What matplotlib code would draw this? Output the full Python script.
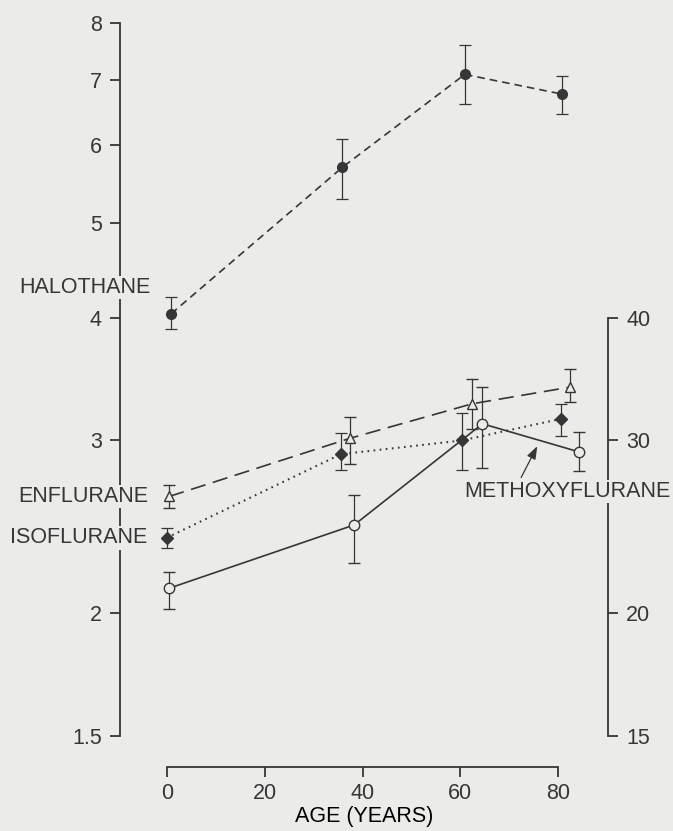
import numpy as np
import matplotlib
matplotlib.use("Agg")
from matplotlib import pyplot as plt
from matplotlib.ticker import FixedLocator, NullLocator, FixedFormatter

# values (age in years)
halo_age = [0.9, 35.9, 60.9, 80.7]
halo_val = [4.04, 5.70, 7.09, 6.77]
halo_lo = [3.90, 5.29, 6.61, 6.46]
halo_hi = [4.20, 6.09, 7.60, 7.06]

enf_age = [0.5, 37.4, 62.4, 82.3]
enf_val = [2.63, 3.015, 3.27, 3.40]
enf_lo = [2.56, 2.84, 3.08, 3.28]
enf_hi = [2.70, 3.17, 3.47, 3.55]

iso_age = [0.0, 35.6, 60.3, 80.5]
iso_val = [2.387, 2.905, 3.00, 3.156]
iso_lo = [2.33, 2.80, 2.80, 3.03]
iso_hi = [2.44, 3.05, 3.20, 3.27]

# methoxyflurane uses the right-hand axis
mox_age = [0.5, 38.3, 64.5, 84.3]
mox_val = [21.2, 24.6, 31.2, 29.2]
mox_lo = [20.2, 22.5, 28.1, 27.95]
mox_hi = [22.0, 26.4, 34.0, 30.6]

left_ticks = [1.5, 2, 3, 4, 5, 6, 7, 8]
left_labels = ["1.5", "2", "3", "4", "5", "6", "7", "8"]
right_ticks = [15, 20, 30, 40]
x_ticks = [0, 20, 40, 60, 80]

BG = "#ebebe9"
INK = "#363636"
FS = 15.5

plt.rcParams["font.family"] = ["Liberation Sans", "DejaVu Sans"]
plt.rcParams["font.size"] = FS
plt.rcParams["lines.scale_dashes"] = False
plt.rcParams["text.color"] = INK
plt.rcParams["xtick.color"] = INK
plt.rcParams["ytick.color"] = INK

fig = plt.figure(figsize=(6.73, 8.31), dpi=100, facecolor=BG)
ax = fig.add_axes([120 / 673, 1 - 735.5 / 831, 488 / 673, 712.5 / 831])
ax.set_facecolor(BG)
ax.set_yscale("log")
ax.set_ylim(1.5, 8)
ax.set_xlim(-9.54, 90.15)

ax2 = ax.twinx()
ax2.set_yscale("log")
ax2.set_ylim(15, 80)

for a in (ax, ax2):
    for s in a.spines.values():
        s.set_visible(False)
        s.set_color(INK)
        s.set_linewidth(1.3)

ax.spines["left"].set_visible(True)
ax.spines["left"].set_bounds(1.5, 8)
ax.spines["bottom"].set_visible(True)
ax.spines["bottom"].set_position(("outward", 22.5))
ax.spines["bottom"].set_bounds(0, 80)
ax2.spines["right"].set_visible(True)
ax2.spines["right"].set_bounds(15, 40)

ax.yaxis.set_major_locator(FixedLocator(left_ticks))
ax.yaxis.set_major_formatter(FixedFormatter(left_labels))
ax.yaxis.set_minor_locator(NullLocator())
ax2.yaxis.set_major_locator(FixedLocator(right_ticks))
ax2.yaxis.set_major_formatter(FixedFormatter([str(t) for t in right_ticks]))
ax2.yaxis.set_minor_locator(NullLocator())
ax.set_xticks(x_ticks)

ax.tick_params(axis="y", direction="out", length=7, width=1.3, pad=6, labelsize=FS)
ax.tick_params(axis="x", direction="out", length=7, width=1.3, pad=5, labelsize=FS)
ax2.tick_params(axis="y", direction="out", length=7, width=1.3, pad=6, labelsize=FS)
ax.set_xlabel("AGE (YEARS)", fontsize=FS, labelpad=1)


def err(val, lo, hi):
    v = np.array(val)
    return [v - np.array(lo), np.array(hi) - v]


ebk = dict(ecolor=INK, elinewidth=0.9, capsize=4, capthick=0.9)

# halothane
ax.errorbar(halo_age, halo_val, yerr=err(halo_val, halo_lo, halo_hi), fmt="o",
            ms=7, mfc=INK, mec=INK, zorder=4, **ebk)
ax.plot(halo_age, halo_val, color=INK, lw=1.2, dashes=(5.5, 3.6), zorder=3)

# enflurane
ax.errorbar(enf_age, enf_val, yerr=err(enf_val, enf_lo, enf_hi), fmt="^",
            ms=6.5, mfc=BG, mec=INK, mew=1.0, zorder=4, **ebk)
ax.plot(enf_age, enf_val, color=INK, lw=1.2, dashes=(11, 5.5), zorder=3)

# isoflurane
ax.errorbar(iso_age, iso_val, yerr=err(iso_val, iso_lo, iso_hi), fmt="D",
            ms=6, mfc=INK, mec=INK, zorder=4, **ebk)
ax.plot(iso_age, iso_val, color=INK, lw=1.5, dashes=(1.2, 3.2), zorder=3)

# methoxyflurane (right axis)
ax2.errorbar(mox_age, mox_val, yerr=err(mox_val, mox_lo, mox_hi), fmt="o",
             ms=7.5, mfc=BG, mec=INK, mew=1.0, zorder=4, **ebk)
ax2.plot(mox_age, mox_val, color=INK, lw=1.2, zorder=3)

box = dict(facecolor=BG, edgecolor="none", pad=1.0)
ax.annotate("HALOTHANE", xy=(halo_age[0], halo_val[0]), xytext=(-15, 19),
            textcoords="offset points", ha="right", va="center", bbox=box, zorder=6)
ax.annotate("ENFLURANE", xy=(enf_age[0], enf_val[0]), xytext=(-15, 0),
            textcoords="offset points", ha="right", va="center", bbox=box, zorder=6)
ax.annotate("ISOFLURANE", xy=(iso_age[0], iso_val[0]), xytext=(-14, 0),
            textcoords="offset points", ha="right", va="center", bbox=box, zorder=6)

ax2.text(60.7, 26.6, "METHOXYFLURANE", ha="left", va="center", bbox=box,
         zorder=6, clip_on=False)
ax2.annotate("", xy=(75.7, 29.6), xytext=(72.4, 27.5),
             arrowprops=dict(arrowstyle="-|>,head_length=0.5,head_width=0.18",
                             color=INK, lw=0.9, shrinkA=0, shrinkB=0))

fig.savefig("out.png", dpi=100, facecolor=BG)
